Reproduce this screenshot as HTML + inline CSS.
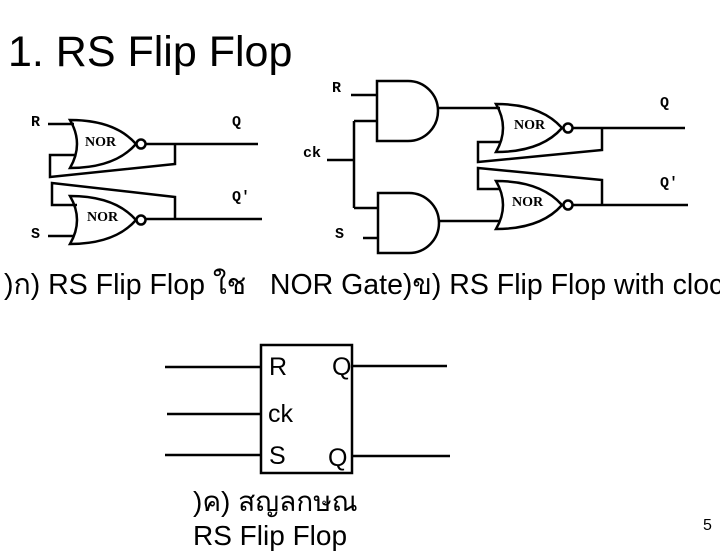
<!DOCTYPE html>
<html><head><meta charset="utf-8"><style>
body{margin:0;width:720px;height:540px;overflow:hidden;background:#fff;position:relative;font-family:"Liberation Sans","DejaVu Sans",sans-serif}
.t{position:absolute;white-space:nowrap;color:#000}
</style></head><body>
<svg width="720" height="540" style="position:absolute;left:0;top:0" fill="none" stroke="#000" stroke-width="2.5">
<defs>
<path id="nor" d="M0,0 Q14,24 0,48 Q45,48 66,24 Q45,0 0,0 Z"/>
</defs>
<use href="#nor" x="70" y="120"/>
<use href="#nor" x="70" y="196"/>
<circle cx="141" cy="144" r="4.5"/>
<circle cx="141" cy="220" r="4.5"/>
<path d="M48,124H74M146,144H258M175,144V164L50,177V155H76M48,236H74M146,219H262M175,219V197L52,183V205H77"/>
<path d="M377,81H408A30,30 0 0 1 408,141H377Z"/>
<path d="M378,193H409A30,30 0 0 1 409,253H378Z"/>
<path d="M351,95H377M327,160H354M354,121V208M354,121H377M354,208H378M363,238H378M439,108H500M440,221H500"/>
<use href="#nor" x="496" y="104"/>
<use href="#nor" x="496" y="181"/>
<circle cx="568" cy="128" r="4.5"/>
<circle cx="568" cy="205" r="4.5"/>
<path d="M573,128H685M602,128V150L478,162V142H500M573,205H688M602,205V180L478,168V189H500"/>
<rect x="261" y="345" width="91" height="128"/>
<path d="M165,367H261M167,414H261M165,455H261M352,366H447M352,456H450"/>
</svg>
<div class="t" style="left:8px;top:28px;font-size:43px">1. RS Flip Flop</div>
<div style="font-family:'Liberation Mono',monospace;font-size:15px;font-weight:bold">
<div class="t" style="left:31px;top:114px">R</div>
<div class="t" style="left:31px;top:226px">S</div>
<div class="t" style="left:232px;top:114px">Q</div>
<div class="t" style="left:232px;top:189px">Q′</div>
<div class="t" style="left:332px;top:80px">R</div>
<div class="t" style="left:303px;top:145px">ck</div>
<div class="t" style="left:335px;top:226px">S</div>
<div class="t" style="left:660px;top:95px">Q</div>
<div class="t" style="left:660px;top:175px">Q′</div>
</div>
<div style="font-family:'Liberation Serif',serif;font-size:14px;font-weight:bold;color:#c0141e">
<div class="t" style="left:85px;top:135px">NOR</div>
<div class="t" style="left:87px;top:210px">NOR</div>
<div class="t" style="left:514px;top:118px">NOR</div>
<div class="t" style="left:512px;top:195px">NOR</div>
</div>
<div class="t" style="left:4px;top:261px;font-size:28.5px">)ก) RS Flip Flop ใช&nbsp;&nbsp; NOR Gate)ข) RS Flip Flop with clock</div>
<div style="font-size:25px">
<div class="t" style="left:269px;top:353px">R</div>
<div class="t" style="left:332px;top:353px">Q</div>
<div class="t" style="left:268px;top:400px">ck</div>
<div class="t" style="left:269px;top:442px">S</div>
<div class="t" style="left:328px;top:444px">Q</div>
</div>
<div class="t" style="left:193px;top:480px;font-size:28px">)ค) สญลกษณ</div>
<div class="t" style="left:193px;top:520px;font-size:28px">RS Flip Flop</div>
<div class="t" style="left:703px;top:517px;font-size:16px">5</div>
</body></html>
